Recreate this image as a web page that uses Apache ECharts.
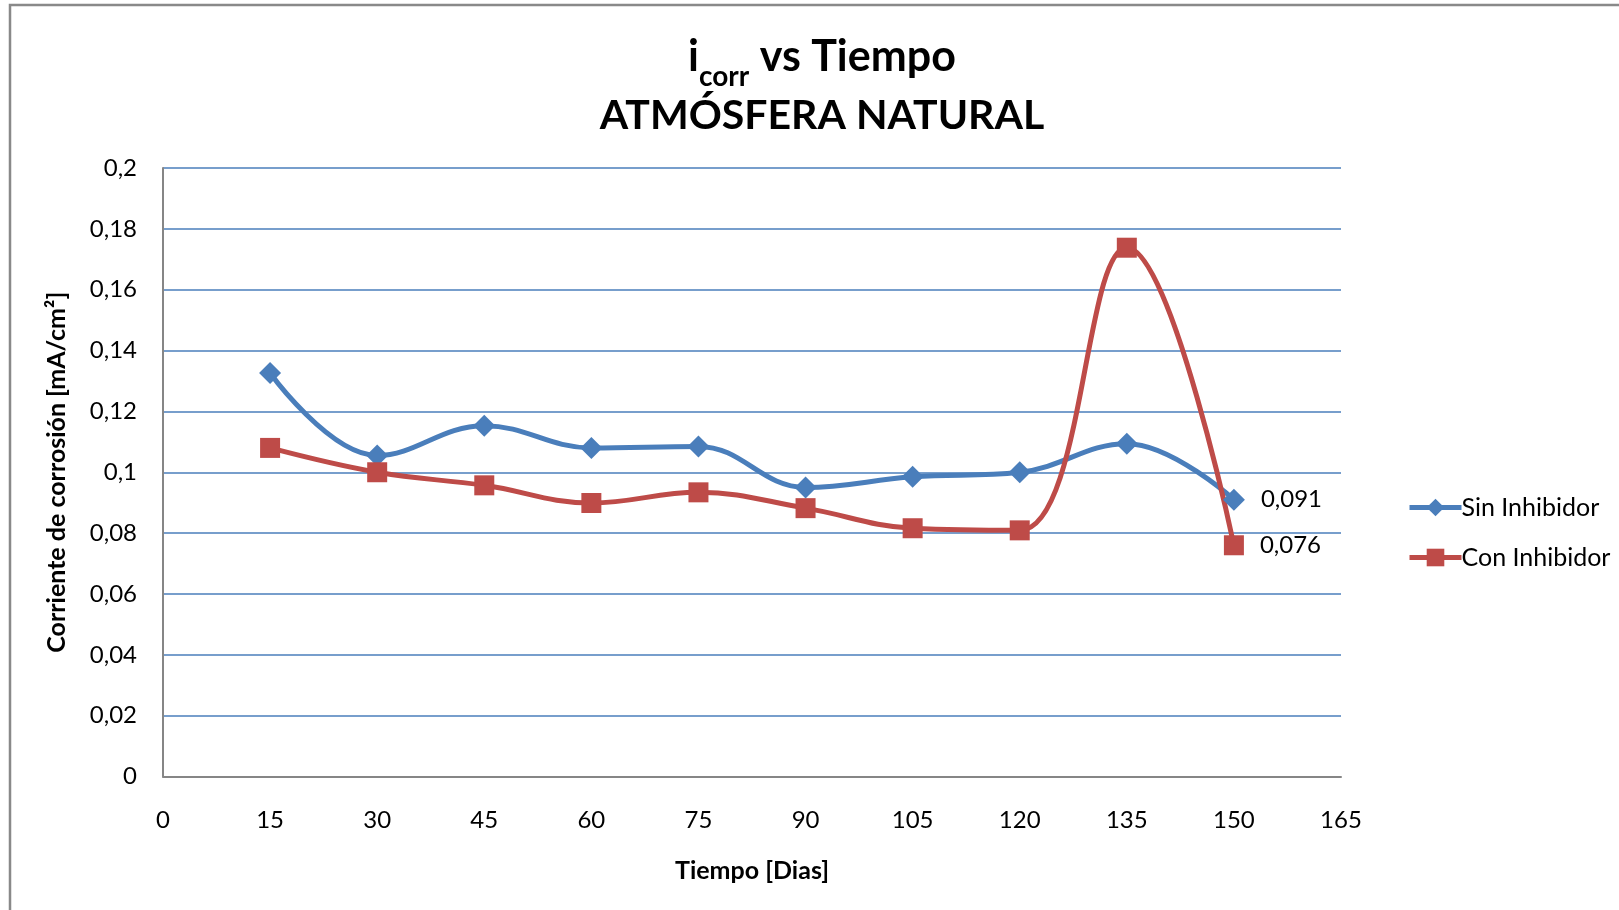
<!DOCTYPE html>
<html lang="es">
<head>
    <meta charset="UTF-8">
    <title>icorr vs Tiempo</title>
    <style>
        html, body {
            margin: 0;
            padding: 0;
            background: #fff;
        }
        .container {
            width: 1619px;
            height: 910px;
        }
    </style>
</head>
<body>

<div id="J-chart-container" class="container"></div>

<script src="https://cdn.jsdelivr.net/npm/echarts@6/dist/echarts.min.js"></script>
<script>
    var dias = [15, 30, 45, 60, 75, 90, 105, 120, 135, 150];
    var sinInhibidor = [0.1326, 0.1055, 0.1153, 0.108, 0.1085, 0.095, 0.0985, 0.1, 0.1094, 0.091];
    var conInhibidor = [0.108, 0.1, 0.0957, 0.0899, 0.0934, 0.0882, 0.0816, 0.0809, 0.1738, 0.076];
    var nombres = ['Sin Inhibidor', 'Con Inhibidor'];

    var FONT = 'Lato, "Open Sans", sans-serif';

    function coma(v) {
        return String(+v.toFixed(3)).replace('.', ',');
    }

    // solo el ultimo punto lleva etiqueta
    function buildData(values) {
        return dias.map(function (d, i) {
            if (i === dias.length - 1) {
                return {
                    value: [d, values[i]],
                    label: { show: true }
                };
            }
            return [d, values[i]];
        });
    }

    function buildSeries(name, values, color, symbol, size) {
        return {
            name: name,
            type: 'line',
            smooth: 0.4,
            symbol: symbol,
            symbolSize: size,
            color: color,
            lineStyle: { width: 5, color: color },
            itemStyle: { color: color },
            label: {
                show: false,
                position: 'right',
                distance: 16,
                fontFamily: FONT,
                fontSize: 24,
                color: '#000',
                formatter: function (p) { return coma(p.value[1]); }
            },
            data: buildData(values)
        };
    }

    var chart = echarts.init(document.getElementById('J-chart-container'));

    var option = {
        backgroundColor: '#fff',
        textStyle: { fontFamily: FONT },
        title: {
            left: 817,
            top: 31,
            textAlign: 'center',
            text: '{b|i}{s|corr}{b| vs Tiempo}',
            subtext: 'ATMÓSFERA NATURAL',
            itemGap: 4,
            textStyle: {
                rich: {
                    b: {
                        fontFamily: FONT,
                        fontWeight: 'bold',
                        fontSize: 43,
                        color: '#000',
                        verticalAlign: 'bottom',
                        padding: [0, 0, 12, 0]
                    },
                    s: {
                        fontFamily: FONT,
                        fontWeight: 'bold',
                        fontSize: 28,
                        color: '#000',
                        verticalAlign: 'bottom'
                    }
                }
            },
            subtextStyle: {
                fontFamily: FONT,
                fontWeight: 'bold',
                fontSize: 41,
                color: '#000'
            }
        },
        legend: {
            orient: 'vertical',
            left: 1402,
            top: 490,
            itemWidth: 52,
            itemHeight: 22,
            itemGap: 25,
            data: nombres,
            lineStyle: { width: 5 },
            textStyle: {
                fontFamily: FONT,
                fontSize: 25,
                color: '#000',
                padding: [0, 0, 0, -5]
            }
        },
        grid: {
            left: 163,
            right: 278,
            top: 168,
            bottom: 133.5
        },
        xAxis: {
            type: 'value',
            min: 0,
            max: 165,
            interval: 15,
            name: 'Tiempo [Dias]',
            nameLocation: 'middle',
            nameGap: 82,
            nameTextStyle: {
                fontFamily: FONT,
                fontWeight: 'bold',
                fontSize: 25,
                color: '#000'
            },
            axisLine: { lineStyle: { color: '#868686', width: 2 } },
            axisTick: { show: false },
            splitLine: { show: false },
            axisLabel: {
                margin: 32,
                fontFamily: FONT,
                fontSize: 24,
                color: '#000'
            }
        },
        yAxis: {
            type: 'value',
            min: 0,
            max: 0.2,
            interval: 0.02,
            name: 'Corriente de corrosión [mA/cm²]',
            nameLocation: 'middle',
            nameGap: 94,
            nameTextStyle: {
                fontFamily: FONT,
                fontWeight: 'bold',
                fontSize: 25,
                color: '#000'
            },
            axisLine: { show: true, lineStyle: { color: '#868686', width: 2 } },
            axisTick: { show: false },
            splitLine: { lineStyle: { color: '#4A7EBB', width: 1.5 } },
            axisLabel: {
                margin: 26,
                fontFamily: FONT,
                fontSize: 24,
                color: '#000',
                formatter: coma
            }
        },
        series: [
            buildSeries(nombres[0], sinInhibidor, '#4A7EBB', 'diamond', 22),
            buildSeries(nombres[1], conInhibidor, '#BE4B48', 'rect', 20)
        ],
        graphic: [
            {
                type: 'rect',
                shape: { x: 10, y: 5, width: 1700, height: 1000 },
                style: { fill: 'none', stroke: '#898989', lineWidth: 2.5 },
                silent: true
            }
        ]
    };

    chart.setOption(option);
</script>
</body>
</html>
